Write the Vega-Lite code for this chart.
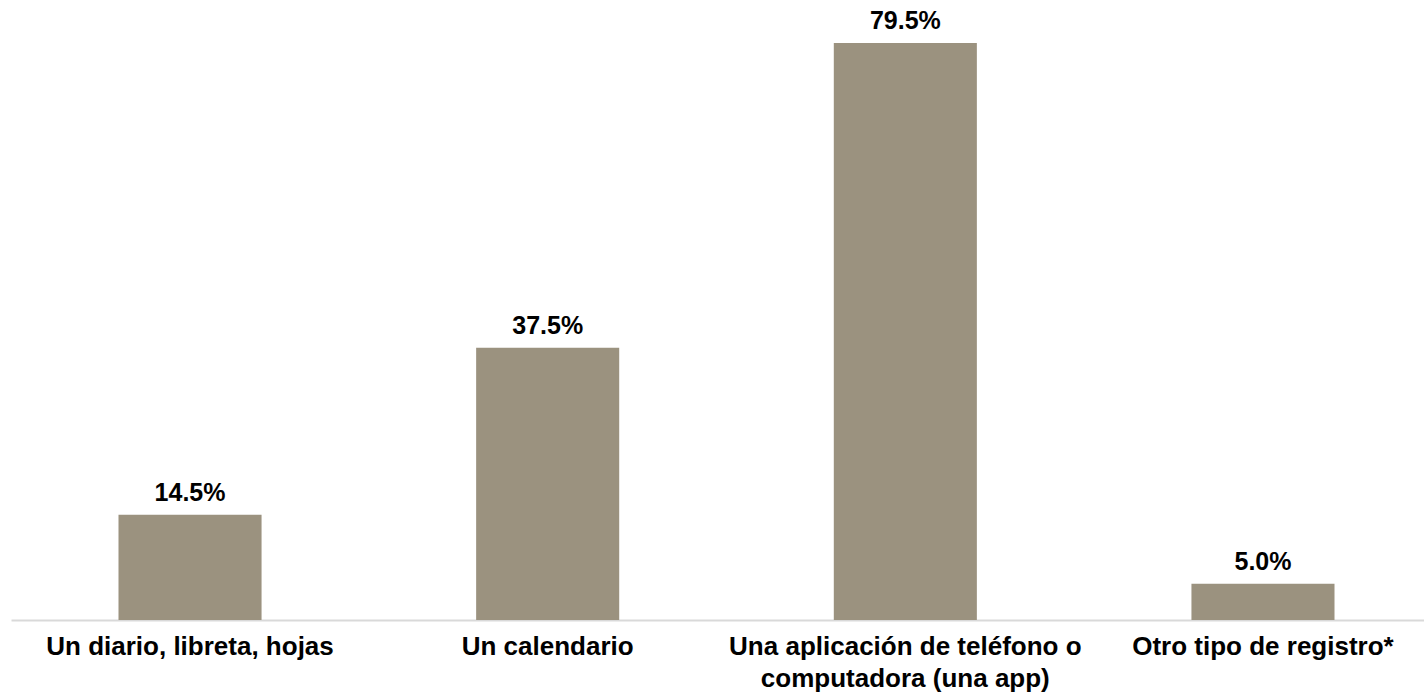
{
  "$schema": "https://vega.github.io/schema/vega-lite/v6.json",
  "autosize": "none",
  "width": 1413,
  "height": 577,
  "padding": {"left": 11, "top": 43, "right": 0, "bottom": 77},
  "background": "white",
  "config": {"view": {"stroke": null}},
  "data": {"values": [
    {"categoria": "Un diario, libreta, hojas", "pct": 14.5, "etiqueta": "14.5%"},
    {"categoria": "Un calendario", "pct": 37.5, "etiqueta": "37.5%"},
    {"categoria": "Una aplicación de teléfono o computadora (una app)", "pct": 79.5, "etiqueta": "79.5%"},
    {"categoria": "Otro tipo de registro*", "pct": 5.0, "etiqueta": "5.0%"}
  ]},
  "encoding": {
    "x": {
      "field": "categoria", "type": "nominal", "sort": null,
      "scale": {"paddingInner": 0.6, "paddingOuter": 0.2754, "align": 0.5457},
      "axis": {
        "title": null, "labelAngle": 0, "ticks": false,
        "domainColor": "#d9d9d9", "domainWidth": 2,
        "labelFont": "Liberation Sans", "labelFontWeight": "bold", "labelFontSize": 26,
        "labelColor": "#000000", "labelPadding": 13, "labelLineHeight": 32,
        "labelLimit": 0,
        "labelExpr": "datum.label == 'Una aplicación de teléfono o computadora (una app)' ? ['Una aplicación de teléfono o', 'computadora (una app)'] : datum.label"
      }
    },
    "y": {
      "field": "pct", "type": "quantitative",
      "scale": {"domain": [0, 79.5], "nice": false},
      "axis": null
    }
  },
  "layer": [
    {"mark": {"type": "bar", "color": "#9b927f"}},
    {
      "mark": {"type": "text", "baseline": "alphabetic", "dy": -14, "font": "Liberation Sans", "fontWeight": "bold", "fontSize": 25, "color": "#000000"},
      "encoding": {"text": {"field": "etiqueta", "type": "nominal"}}
    }
  ]
}
